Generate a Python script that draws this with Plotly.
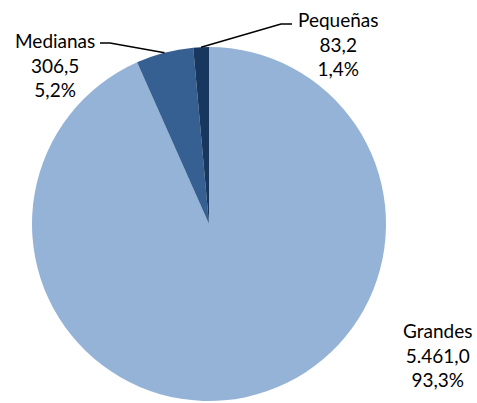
import math
import plotly.graph_objects as go

# data
labels = ["Grandes", "Medianas", "Pequeñas"]
values = [5461.0, 306.5, 83.2]
percents = ["93,3%", "5,2%", "1,4%"]
value_text = ["5.461,0", "306,5", "83,2"]
colors = ["#95B3D7", "#376092", "#17375E"]

W, H = 477, 403
cx, cy, r = 209, 224, 177  # pie center / radius in pixels
FONT = "Lato, Calibri, sans-serif"


def px(x):
    return x / W


def py(y):
    return 1 - y / H


def edge_point(idx):
    # point on the rim at the middle of slice idx (clockwise from 12 o'clock)
    total = sum(values)
    start = sum(values[:idx]) / total
    mid = start + values[idx] / total / 2
    a = 2 * math.pi * mid
    return cx + r * math.sin(a), cy - r * math.cos(a)


fig = go.Figure(go.Pie(
    labels=labels,
    values=values,
    marker=dict(colors=colors, line=dict(width=0)),
    sort=False,
    direction="clockwise",
    rotation=0,
    textinfo="none",
    hoverinfo="label+value+percent",
    showlegend=False,
    domain=dict(x=[px(cx - r), px(cx + r)], y=[max(py(cy + r), 0), py(cy - r)]),
))

# label positions (pixel centers) and leader-line elbows
label_pos = {0: (437, 355), 1: (55, 65), 2: (338, 44)}
elbows = {1: [(110, 43), (100, 43)], 2: [(281, 24), (292, 24)]}

for i, lab in enumerate(labels):
    x, y = label_pos[i]
    fig.add_annotation(
        x=px(x), y=py(y), xref="paper", yref="paper",
        text=f"{lab}<br>{value_text[i]}<br>{percents[i]}",
        showarrow=False, align="center",
        xanchor="center", yanchor="middle",
        font=dict(family=FONT, size=19, color="#000000"),
    )
    if i in elbows:
        pts = [edge_point(i)] + elbows[i]
        path = "M " + " L ".join(f"{px(a)},{py(b)}" for a, b in pts)
        fig.add_shape(type="path", path=path, xref="paper", yref="paper",
                      line=dict(color="#000000", width=1.5))

fig.update_layout(
    width=W, height=H,
    margin=dict(l=0, r=0, t=0, b=0),
    paper_bgcolor="white",
    plot_bgcolor="white",
    font=dict(family=FONT),
)

# drop the default page margin so the figure fills the window exactly
fig.write_html(
    "out.html",
    config={"displayModeBar": False},
    post_script="document.body.style.margin='0';document.body.style.overflow='hidden';",
)
